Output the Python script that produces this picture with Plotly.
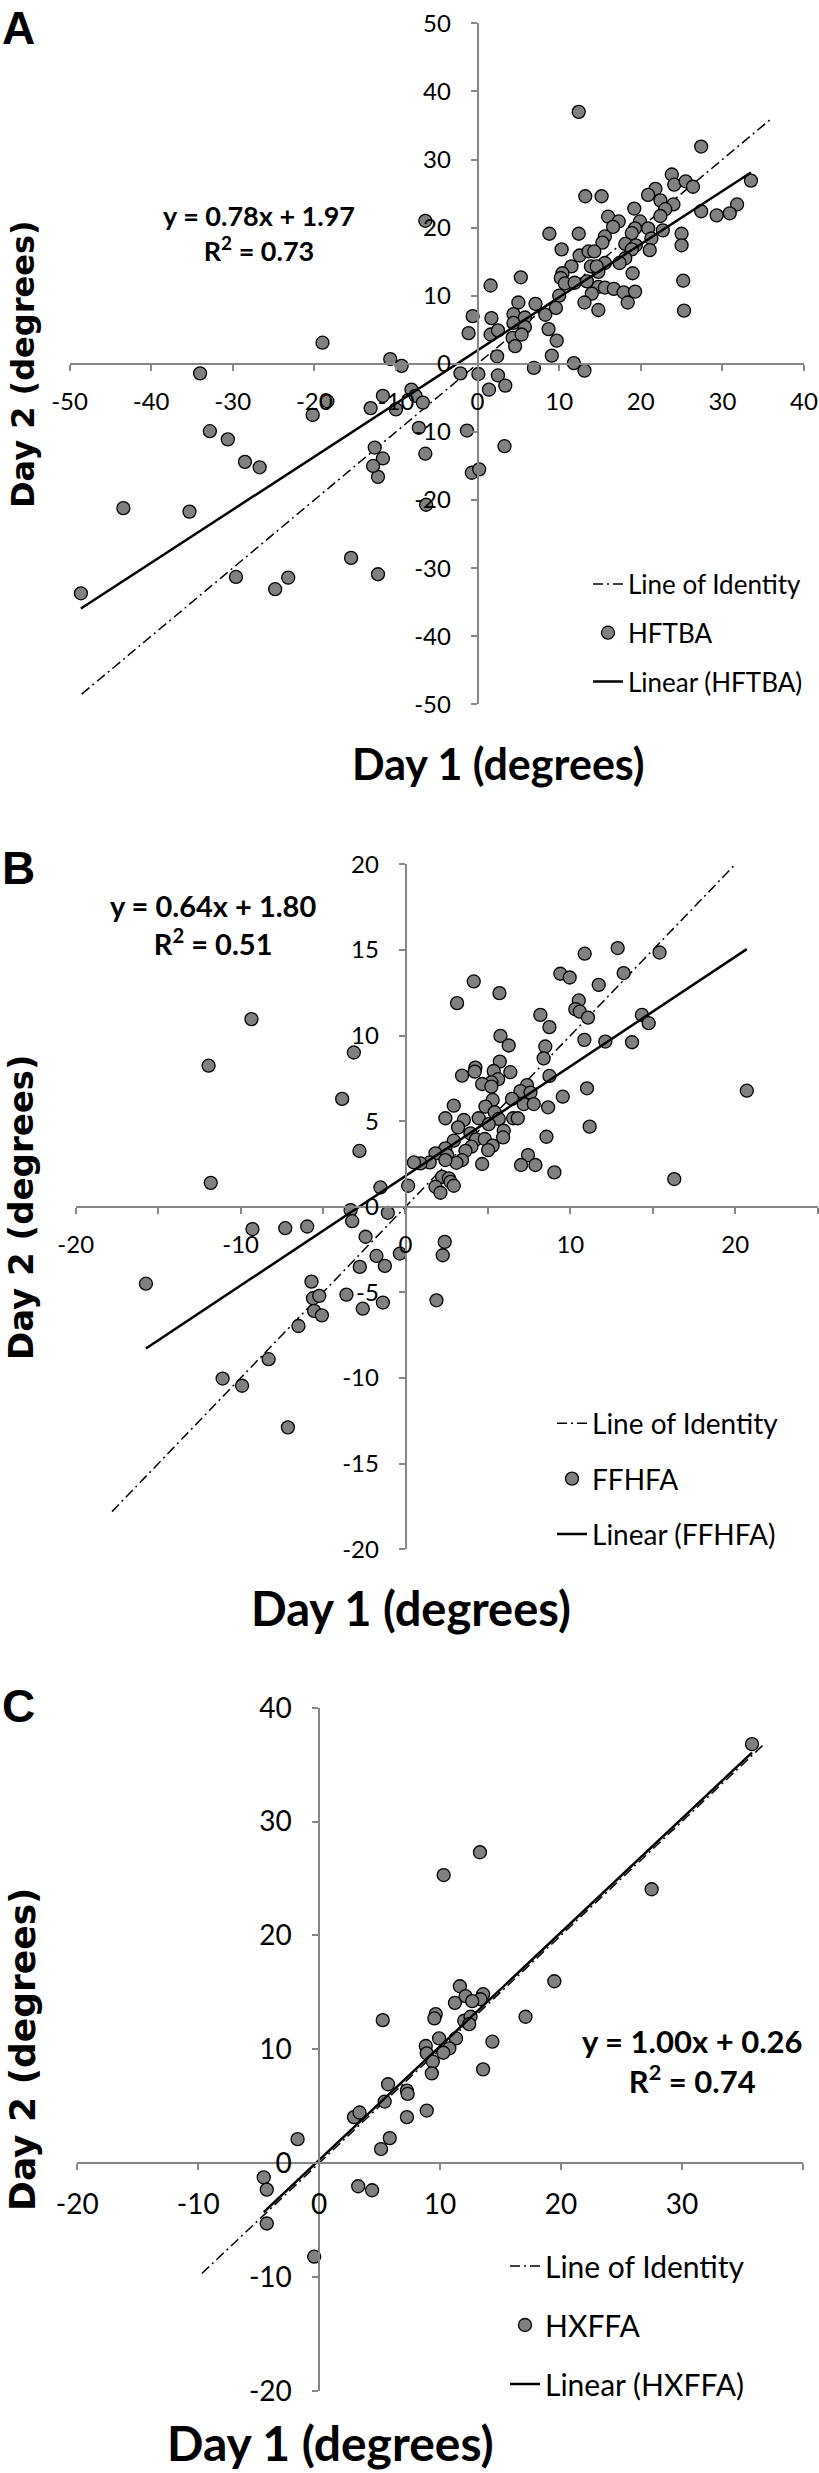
import plotly.graph_objects as go

W, H = 819, 2473

# ---------------- Panel A (HFTBA) ----------------
a_day1 = [12.4, 27.4, 23.8, 24.1, 25.5, 26.4, 21.8, 20.9, 22.4, 13.2, 15.2, 24.0, 31.8, 33.5, 27.4,
          29.3, 30.9, 23.0, 22.4, 19.2, 16.0, 17.3, 16.6, 19.9, 20.9, 19.3, 22.7, 18.9, 21.3, 15.6,
          15.3, 25.0, 25.0, 18.1, 19.4, 18.9, 21.1, 8.8, 12.4, 10.3, 12.5, 13.6, 14.3, 18.1, 17.4,
          15.6, 14.8, 13.9, 14.6, 11.5, 19.0, 10.4, 10.2, 10.7, 11.9, 13.4, 25.2, 14.8, 15.6, 16.7,
          17.9, 19.3, 14.0, 10.0, 13.1, 18.4, 14.8, 25.3, 9.6, 7.1, 8.3, 5.3, 5.0, 1.6, -0.6,
          -1.1, 1.7, 1.6, 2.5, 4.4, 4.4, 5.8, 5.8, 4.3, 5.4, 4.6, 8.7, 9.7, 9.1, 2.4,
          6.9, 11.8, 13.1, 0.1, -2.1, 2.5, 3.4, 1.4, -10.7, -9.3, -8.1, -7.6, -11.6, -6.7, -10.0,
          -7.2, -1.3, 3.3, -6.4, -0.7, 0.2, -11.6, -12.6, -12.2, -6.4, -6.3, -19.0, -34.0, -20.2, -18.4,
          -13.1, -32.8, -30.6, -28.5, -26.7, -12.8, -43.4, -35.3, -15.5, -29.6, -23.2, -24.8, -12.2, -48.6]
a_day2 = [37.0, 31.9, 27.8, 26.3, 26.8, 26.0, 25.7, 24.8, 24.0, 24.6, 24.6, 23.4, 23.4, 26.9, 22.4,
          21.8, 22.1, 22.7, 21.7, 22.8, 21.6, 20.9, 20.1, 20.9, 19.9, 19.9, 19.6, 19.2, 18.4, 18.7,
          17.8, 19.1, 17.4, 17.6, 17.4, 16.8, 16.7, 19.1, 19.1, 16.8, 15.9, 16.5, 16.5, 15.5, 14.8,
          14.8, 13.5, 14.3, 14.3, 14.3, 13.3, 13.3, 12.6, 11.8, 11.9, 12.1, 12.2, 11.3, 11.2, 11.0,
          10.5, 10.6, 10.3, 10.0, 9.0, 9.0, 7.9, 7.8, 8.2, 8.8, 7.2, 12.7, 9.0, 11.5, 7.0,
          4.5, 6.7, 4.3, 4.9, 7.3, 6.0, 6.8, 5.4, 3.8, 4.3, 2.6, 5.1, 3.4, 1.2, 1.1,
          -0.6, 0.1, -1.0, -1.5, -1.4, -1.7, -3.2, -3.8, 0.7, -0.3, -3.8, -4.7, -4.7, -5.7, -6.7,
          -9.4, -9.8, -12.1, -13.2, -16.0, -15.5, -13.9, -12.3, -16.6, 21.0, -20.7, 3.1, -1.4, -7.5, -5.5,
          -6.5, -9.9, -11.1, -14.4, -15.2, -15.0, -21.2, -21.7, -28.5, -31.3, -31.4, -33.1, -30.9, -33.7]
a_slope, a_intercept, a_r2 = 0.78, 1.97, 0.73
a_identity = [-48.5, 36.0]
a_xticks = [-50, -40, -30, -20, -10, 0, 10, 20, 30, 40]
a_yticks = [-50, -40, -30, -20, -10, 0, 10, 20, 30, 40, 50]

# ---------------- Panel B (FFHFA) ----------------
b_day1 = [10.87, 12.87, 15.41, 9.39, 9.96, 13.23, 11.72, 4.14, 5.70, 3.13, 10.51, 10.30, 10.57, 11.07, 8.18,
          8.73, 14.34, 14.75, 5.76, 6.26, 10.85, 12.12, 13.74, 8.48, 8.38, 5.72, 4.24, 4.20, 5.35, 6.36,
          3.43, 8.73, 5.62, 5.21, 4.65, 5.21, 7.37, 6.97, 7.58, 11.01, 9.54, 6.46, 5.29, 7.17, 7.78,
          2.93, 4.85, 8.65, 5.41, 4.44, 2.42, 3.54, 5.66, 6.53, 6.81, 3.19, 5.05, 5.96, 5.92, 3.94,
          4.28, 4.81, 11.17, 8.55, 2.93, 4.00, 3.64, 5.29, 5.01, 2.42, 1.82, 2.53, 3.43, 3.09, 2.42,
          1.47, 0.91, 0.51, 4.65, 7.43, 7.01, 7.88, 9.03, 16.30, 20.70, 2.22, 2.63, 2.73, 1.82, 2.93,
          2.12, 0.16, -1.52, -3.33, -3.23, -1.07, -2.42, 2.38, 2.26, -0.34, -1.76, -1.25, -2.77, -3.58, -1.37,
          -2.59, 1.88, -3.13, -3.84, -2.79, -9.34, -11.94, -11.81, -9.28, -7.29, -5.96, -15.74, -5.70, -5.61, -5.23,
          -5.54, -5.07, -6.49, -8.30, -11.09, -9.91, -7.13]
b_day2 = [14.78, 15.11, 14.85, 13.61, 13.39, 13.65, 12.96, 13.16, 12.48, 11.89, 12.05, 11.54, 11.40, 11.05, 11.21,
          10.49, 11.21, 10.72, 9.98, 9.42, 9.75, 9.65, 9.61, 9.36, 8.67, 8.48, 8.13, 7.89, 7.93, 7.86,
          7.66, 7.64, 7.45, 7.27, 7.17, 7.02, 7.11, 6.76, 6.67, 6.92, 6.43, 6.30, 6.24, 6.00, 6.00,
          5.91, 5.85, 5.81, 5.52, 5.17, 5.17, 5.07, 5.13, 5.17, 5.17, 4.64, 4.83, 4.44, 4.05, 4.29,
          3.94, 3.96, 4.68, 4.09, 3.86, 3.51, 3.27, 3.57, 3.31, 3.41, 3.12, 3.02, 2.73, 2.57, 2.73,
          2.59, 2.53, 2.59, 2.50, 3.02, 2.44, 2.44, 2.01, 1.62, 6.78, 1.75, 1.66, 1.46, 1.17, 1.23,
          0.82, 1.23, 1.13, -0.19, -0.84, -0.35, -1.75, -2.05, -2.83, -2.73, -2.87, -3.45, -3.51, -5.13, -5.59,
          -5.95, -5.46, 9.01, 6.30, 3.26, 10.96, 8.24, 1.40, -1.30, -1.25, -1.15, -4.49, -4.37, -5.34, -5.20,
          -6.08, -6.34, -6.96, -8.90, -10.03, -10.45, -12.88]
b_slope, b_intercept, b_r2 = 0.64, 1.80, 0.51
b_identity = [-17.8, 20.7]
b_xticks = [-20, -10, 0, 10, 20]
b_yticks = [-20, -15, -10, -5, 0, 5, 10, 15, 20]

# ---------------- Panel C (HXFFA) ----------------
c_day1 = [19.45, 11.64, 12.11, 13.56, 13.34, 12.66, 11.23, 9.64, 9.53, 5.26, 12.00, 12.52, 12.41, 17.07, 9.92,
          11.32, 14.33, 8.82, 10.77, 8.90, 10.27, 9.40, 9.32, 13.56, 5.70, 5.42, 7.26, 7.32, 7.26, 8.90,
          2.88, 3.34, 5.84, 5.12, -1.78, -4.58, -4.33, 3.23, 4.38, -4.33, -0.41, 35.8, 13.3, 10.3, 27.5]
c_day2 = [15.97, 15.53, 14.66, 14.83, 14.39, 14.22, 14.07, 13.08, 12.70, 12.55, 12.50, 12.85, 12.20, 12.85, 10.95,
          10.95, 10.66, 10.28, 10.07, 9.64, 9.69, 8.91, 7.88, 8.23, 6.92, 5.40, 6.36, 6.07, 4.03, 4.61,
          4.03, 4.44, 2.19, 1.23, 2.10, -1.26, -2.34, -2.04, -2.39, -5.31, -8.23, 36.8, 27.3, 25.3, 24.05]
c_slope, c_intercept, c_r2 = 1.00, 0.26, 0.74
c_identity = [-9.7, 36.8]
c_xticks = [-20, -10, 0, 10, 20, 30, 40]
c_yticks = [-20, -10, 0, 10, 20, 30, 40]


def px(x):
    return x / W


def py(y):
    return 1 - y / H


AXIS_COL = "#868686"
MARKER_FILL = "#808080"

fig = go.Figure()

panels = [
    dict(name="HFTBA", d1=a_day1, d2=a_day2, slope=a_slope, icpt=a_intercept, r2=a_r2,
         ident=a_identity, xt=a_xticks, yt=a_yticks, xr=[-50, 40], yr=[-50, 50], xminor=None,
         xdom=[69.5, 804.0], ydom=[23.3, 704.3], x0=477.5, y0=364.3,
         tick=24, leg=26, eq=27, xt_font=43, yt_font=32,
         eq_pos=(259, 233), xtitle=(499, 763), ytitle=(23, 364),
         letter="A", letter_top=0, legend=dict(x=588, y=633, gap=12), ax=""),
    dict(name="FFHFA", d1=b_day1, d2=b_day2, slope=b_slope, icpt=b_intercept, r2=b_r2,
         ident=b_identity, xt=b_xticks, yt=b_yticks, xr=[-20, 25], yr=[-20, 20], xminor=5,
         xdom=[75.7, 817.7], ydom=[864.3, 1549.3], x0=405.5, y0=1207.3,
         tick=24, leg=28, eq=29, xt_font=47, yt_font=34,
         eq_pos=(213, 925), xtitle=(411, 1608), ytitle=(21, 1207),
         letter="B", letter_top=840, legend=dict(x=552, y=1479, gap=16), ax="2"),
    dict(name="HXFFA", d1=c_day1, d2=c_day2, slope=c_slope, icpt=c_intercept, r2=c_r2,
         ident=c_identity, xt=c_xticks, yt=c_yticks, xr=[-20, 40], yr=[-20, 40], xminor=None,
         xdom=[77.3, 802.8], ydom=[1707.7, 2390.7], x0=319.2, y0=2163.2,
         tick=28, leg=30, eq=31, xt_font=48, yt_font=36,
         eq_pos=(692, 2061), xtitle=(330, None), ytitle=(22, 2049),
         letter="C", letter_top=1678, legend=dict(x=505, y=2325, gap=17), ax="3"),
]

annotations = []
for i, p in enumerate(panels):
    ax = p["ax"]
    xa = "x" + ax
    ya = "y" + ax
    leg = "legend" + ax
    lo, hi = min(p["d1"]), max(p["d1"])
    fig.add_trace(go.Scatter(
        x=p["ident"], y=p["ident"], mode="lines", name="Line of Identity",
        line=dict(color="black", width=1.5, dash="10px,4px,2px,4px"),
        xaxis=xa, yaxis=ya, legend=leg, legendgroup=f"id{i}", hoverinfo="skip"))
    fig.add_trace(go.Scatter(
        x=p["d1"], y=p["d2"], mode="markers", name=p["name"],
        marker=dict(size=13, color=MARKER_FILL, line=dict(color="black", width=1.3)),
        xaxis=xa, yaxis=ya, legend=leg, legendgroup=f"pt{i}"))
    fig.add_trace(go.Scatter(
        x=[lo, hi], y=[p["slope"] * lo + p["icpt"], p["slope"] * hi + p["icpt"]],
        mode="lines", name=f"Linear ({p['name']})",
        line=dict(color="black", width=2.5),
        xaxis=xa, yaxis=ya, legend=leg, legendgroup=f"tr{i}", hoverinfo="skip"))

    xaxis = dict(
        domain=[px(p["xdom"][0]), px(p["xdom"][1])], range=p["xr"],
        anchor="free", position=py(p["y0"]),
        showline=True, linecolor=AXIS_COL, linewidth=1.5,
        ticks="outside", ticklen=6, tickwidth=1.5, tickcolor=AXIS_COL,
        tickmode="array", tickvals=p["xt"], ticktext=[str(v) for v in p["xt"]],
        tickfont=dict(family="Lato", size=p["tick"], color="black"),
        ticklabelstandoff=10, showgrid=False, zeroline=False, fixedrange=True,
        automargin=False)
    if p["xminor"]:
        xaxis["minor"] = dict(dtick=p["xminor"], tick0=0, ticks="outside", ticklen=6,
                              tickwidth=1.5, tickcolor=AXIS_COL, showgrid=False)
    yaxis = dict(
        domain=[py(p["ydom"][1]), py(p["ydom"][0])], range=p["yr"],
        anchor="free", position=px(p["x0"]),
        showline=True, linecolor=AXIS_COL, linewidth=1.5,
        ticks="outside", ticklen=6, tickwidth=1.5, tickcolor=AXIS_COL,
        tickmode="array", tickvals=p["yt"], ticktext=[str(v) for v in p["yt"]],
        tickfont=dict(family="Lato", size=p["tick"], color="black"),
        ticklabelstandoff=15, showgrid=False, zeroline=False, fixedrange=True,
        automargin=False)
    fig.update_layout(**{"xaxis" + ax: xaxis, "yaxis" + ax: yaxis})

    lg = p["legend"]
    fig.update_layout(**{leg: dict(
        x=px(lg["x"]), y=py(lg["y"]), xanchor="left", yanchor="middle",
        bgcolor="rgba(0,0,0,0)", borderwidth=0, traceorder="grouped",
        tracegroupgap=lg["gap"], font=dict(family="Lato", size=p["leg"], color="black"))})

    ex, ey = p["eq_pos"]
    annotations.append(dict(
        x=px(ex), y=py(ey), xref="paper", yref="paper", showarrow=False,
        text=(f"<b>y = {p['slope']:.2f}x + {p['icpt']:.2f}</b><br>"
              f"<b>R<sup>2</sup> = {p['r2']:.2f}</b>"),
        align="center", font=dict(family="Lato", size=p["eq"], color="black"),
        xanchor="center", yanchor="middle"))
    tx, ty = p["xtitle"]
    if ty is None:
        annotations.append(dict(x=px(tx), y=0, xref="paper", yref="paper", showarrow=False,
                                text="<b>Day 1 (degrees)</b>",
                                font=dict(family="Lato", size=p["xt_font"], color="black"),
                                xanchor="center", yanchor="bottom"))
    else:
        annotations.append(dict(x=px(tx), y=py(ty), xref="paper", yref="paper", showarrow=False,
                                text="<b>Day 1 (degrees)</b>",
                                font=dict(family="Lato", size=p["xt_font"], color="black"),
                                xanchor="center", yanchor="middle"))
    vx, vy = p["ytitle"]
    annotations.append(dict(x=px(vx), y=py(vy), xref="paper", yref="paper", showarrow=False,
                            text="<b>Day 2 (degrees)</b>", textangle=-90,
                            font=dict(family="DejaVu Sans", size=p["yt_font"], color="black"),
                            xanchor="center", yanchor="middle"))
    annotations.append(dict(x=0, y=py(p["letter_top"]), xref="paper", yref="paper", showarrow=False,
                            text=f"<b>{p['letter']}</b>",
                            font=dict(family="Liberation Sans", size=46, color="black"),
                            xanchor="left", yanchor="top"))

fig.update_layout(
    width=W, height=H, autosize=False,
    margin=dict(l=0, r=0, t=0, b=0, pad=0, autoexpand=False),
    paper_bgcolor="white", plot_bgcolor="white",
    annotations=annotations, hovermode=False)

fig.write_html("out.html", config={"displayModeBar": False},
               post_script="document.body.style.margin='0px';")
